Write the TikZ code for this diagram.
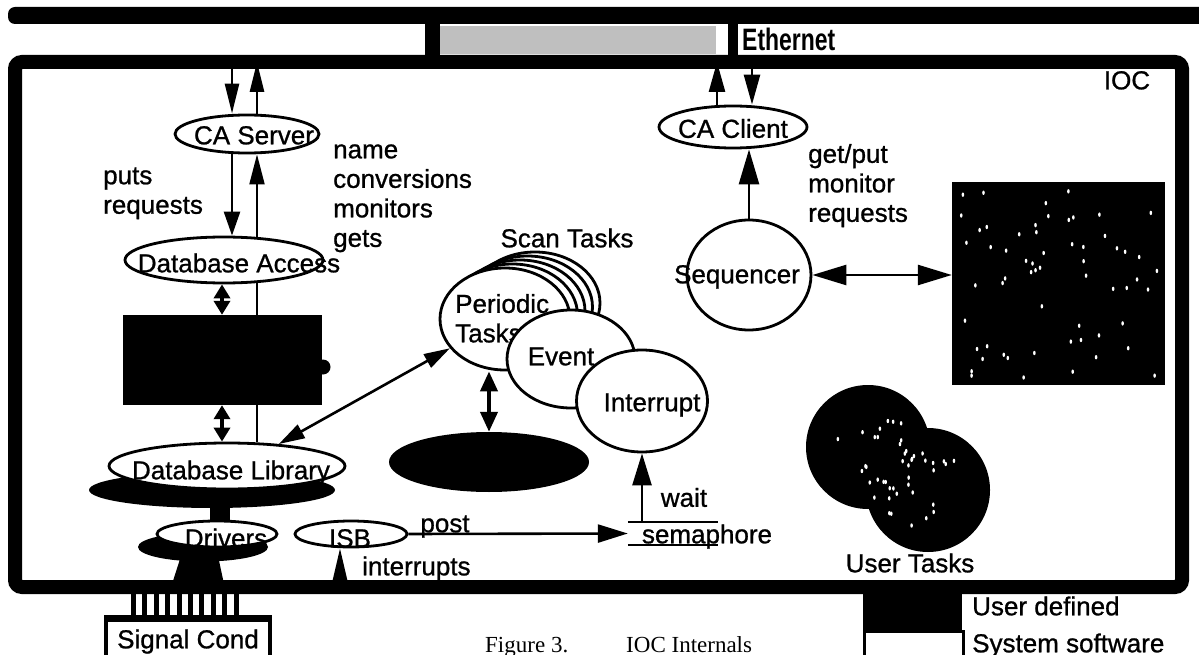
\documentclass[tikz,border=0pt]{standalone}
\usepackage{fontspec}
\setmainfont{Liberation Sans}[FakeBold=0.9]
\newfontfamily\boldfont{Liberation Sans Bold}
\newfontfamily\capfont{Liberation Serif}
\usetikzlibrary{arrows.meta,shapes.geometric,calc}
\pgfdeclarelayer{back}
\pgfsetlayers{back,main}
\begin{document}
\begin{tikzpicture}[x=1pt,y=-1pt,
  txt/.style={font=\fontsize{26}{29}\selectfont, inner sep=0pt, text height=18.6pt, text depth=0pt},
  mtxt/.style={font=\fontsize{26}{29.5}\selectfont, inner sep=0pt, align=left, anchor=north west},
  ell/.style 2 args={draw, ellipse, line width=2.8pt, fill=white, inner sep=0pt, minimum width=#1, minimum height=#2},
  blkell/.style 2 args={ellipse, fill=black, inner sep=0pt, minimum width=#1, minimum height=#2},
  blkbox/.style 2 args={rectangle, fill=black, inner sep=0pt, minimum width=#1, minimum height=#2},
  arr/.style 2 args={line width=2.6pt, arrows={-{Triangle[length=#1,width=#2]}}},
  darr/.style 2 args={line width=2.6pt, arrows={{Triangle[length=#1,width=#2]}-{Triangle[length=#1,width=#2]}}},
]
\useasboundingbox (0,0) rectangle (1199,655);
\begin{pgfonlayer}{back}
  \fill[white] (0,0) rectangle (1199,655);
  % Ethernet
  \fill[rounded corners=7pt] (8,7) rectangle (1230,24);
  \fill (425,20) rectangle (440,58);
  \fill[black!25] (440,26) rectangle (716,54);
  \fill (728,24) rectangle (738,56);
\end{pgfonlayer}

\node[font=\boldfont\fontsize{31}{32}\selectfont, inner sep=0pt, anchor=west] (ethT) at (742,39) {\scalebox{0.74}[1]{Ethernet}};

% x positions of vertical connectors
\coordinate (xcs1) at (232,0);
\coordinate (xcs2) at (257,0);
\coordinate (xcc1) at (717,0);
\coordinate (xcc2) at (752,0);
\coordinate (xd) at (222,0);
\coordinate (xint) at (340,0);

% left column
\node[ell={144pt}{38pt}] (casrv) at (247,134) {};
\node[txt] (casrvT) at (254,135) {CA Server};
\node[ell={198pt}{46pt}] (dba) at (224,260) {};
\node[txt] (dbaT) at (239,263) {Database Access};
\node[blkbox={199pt}{90pt}] (recsup) at (222.5,360) {};
\fill (323,367) circle (7.5);
\node[blkell={246pt}{36pt}] (dblibsh) at (212,490) {};
\node[ell={236pt}{46pt}] (dblib) at (227,466) {};
\node[txt] (dblibT) at (231,470) {Database Library};
\fill (210,505) rectangle (230,524);
\node[blkell={130pt}{29pt}] (drvsh) at (203,547) {};
\node[ell={120pt}{26pt}] (drv) at (217,534) {};
\node[txt] (drvT) at (226,538) {Drivers};
\fill (181,556) -- (218,556) -- (224,584) -- (172,584) -- cycle;
\node[ell={112pt}{26pt}] (isb) at (351,534) {};
\node[txt] (isbT) at (350,538) {ISB};

\node[mtxt] (putsT) at (103,163.4) {\strut puts\\\strut requests};
\node[mtxt] (nameT) at (333,137.5) {\strut name\\\strut conversions\\\strut monitors\\\strut gets};

% scan tasks
\node[blkell={200pt}{60pt}] (bell) at (489,462) {};
\foreach \k in {4,3,2,1} \node[ell={130pt}{102pt}] (scan\k) at ({505+7.5*\k},{319-4*\k}) {};
\node[ell={130pt}{102pt}] (per) at (505,319) {};
\node[mtxt] (perT) at (455,292) {\strut Periodic\\\strut Tasks};
\node[ell={128pt}{98pt}] (evt) at (571,359) {};
\node[txt] (evtT) at (561,356) {Event};
\node[ell={131pt}{102pt}] (intr) at (642,401) {};
\node[txt] (intrT) at (652,402) {Interrupt};
\node[txt] (scanT) at (567,238) {Scan Tasks};

% semaphore
\node[minimum width=90pt, minimum height=23pt, inner sep=0pt] (sema) at (673,533.5) {};
\draw[line width=2.4pt] (sema.north west) -- (sema.north east);
\draw[line width=2.4pt] (sema.south west) -- (sema.south east);
\node[txt] (semaT) at (707,534) {semaphore};
\node[txt] (waitT) at (684,497.5) {wait};
\node[txt] (postT) at (445,523) {post};
\node[txt, anchor=west] (intsT) at (362,566) {interrupts};

% right side
\node[ell={148pt}{42pt}] (cacl) at (733,127) {};
\node[txt] (caclT) at (733,128.5) {CA Client};
\node[ell={124pt}{110pt}] (seq) at (749,275) {};
\node[txt] (seqT) at (737,274) {Sequencer};
\node[mtxt] (gpT) at (808,142) {\strut get/put\\\strut monitor\\\strut requests};
\node[blkbox={213pt}{203pt}] (sq) at (1058.5,283.5) {};
\node[circle, fill=black, minimum size=124pt, inner sep=0pt] (ut1) at (868,447) {};
\node[circle, fill=black, minimum size=124pt, inner sep=0pt] (ut2) at (928,490) {};
\node[txt] (utT) at (910,563) {User Tasks};

% speckles on user defined parts
\pgfmathsetseed{42}
\foreach \i in {1,...,60}{
  \pgfmathsetmacro{\px}{958+rnd*200}
  \pgfmathsetmacro{\py}{188+rnd*190}
  \fill[white] (\px,\py) ellipse (1.3 and 2.2);
}
\foreach \i in {1,...,45}{
  \pgfmathsetmacro{\pt}{rnd}
  \pgfmathsetmacro{\pa}{rnd*360}
  \pgfmathsetmacro{\pr}{sqrt(rnd)*48}
  \fill[white] ({868+60*\pt+\pr*cos(\pa)},{447+43*\pt+\pr*sin(\pa)}) ellipse (1.3 and 2.2);
}

% IOC box
\node[draw, line width=14pt, rounded corners=7pt, inner sep=0pt, minimum width=1167pt, minimum height=525pt] (ioc) at (598.5,324.5) {};
\node[txt] (iocT) at (1127,80) {IOC};

% legend
\node[blkbox={99pt}{36pt}, anchor=north west] (legU) at (863,594) {};
\node[draw, line width=3pt, inner sep=0pt, minimum width=99pt, minimum height=40pt, anchor=north west] (legS) at (863,630) {};
\node[txt, anchor=west] (legUT) at (972,606) {User defined};
\node[txt, anchor=west] (legST) at (972,643) {System software};

% signal conditioning
\foreach \i in {0,...,9} \fill ({131+\i*11.4},594) rectangle ++(5,22);
\node[draw, line width=4pt, inner sep=0pt, minimum width=164pt, minimum height=50pt, anchor=north west] (sig) at (104,618) {};
\draw[line width=6pt] (sig.north west) -- (sig.north east);
\node[txt] (sigT) at (188,639) {Signal Cond};

% caption
\node[font=\capfont\fontsize{23}{26}\selectfont, inner sep=0pt, anchor=base west] (capT) at (485,652) {Figure 3.\hspace{58pt}IOC Internals};

% connectors
\begin{pgfonlayer}{back}
  \draw[arr={30pt}{14pt}, shorten <=7pt] (ioc.north -| xcs1) -- (casrv.north -| xcs1);
  \draw[arr={30pt}{14pt}, shorten >=7pt] (casrv.north -| xcs2) -- (ioc.north -| xcs2);
  \draw[arr={30pt}{16pt}, shorten >=7pt] (cacl.north -| xcc1) -- (ioc.north -| xcc1);
  \draw[arr={30pt}{16pt}, shorten <=7pt] (ioc.north -| xcc2) -- (cacl.north -| xcc2);
  \draw[arr={24pt}{16pt}] (casrv.south -| xcs1) -- (dba.north -| xcs1);
  \draw[arr={30pt}{15pt}, line width=2pt] (dblib.north -| xcs2) -- (casrv.south -| xcs2);
  \draw[darr={14pt}{16pt}, line width=4pt] (dba.south -| xd) -- (recsup.north -| xd);
  \draw[darr={14pt}{16pt}, line width=4pt] (recsup.south -| xd) -- (dblib.north -| xd);
  \draw[darr={26pt}{15pt}] (dblib.23) -- (per.208);
  \draw[darr={20pt}{17pt}, line width=4pt] (per.south -| bell.north) -- (bell.north);
  \draw[arr={30pt}{18pt}] (isb.east) -- (sema.west);
  \draw[arr={32pt}{19pt}] (sema.north -| intr.south) -- (intr.south);
  \draw[arr={34pt}{15pt}, shorten <=7pt] (ioc.south -| xint) -- (isb.south -| xint);
  \draw[arr={35pt}{20pt}] (seq.north) -- (seq.north |- cacl.south);
  \draw[darr={34pt}{20pt}] (seq.east) -- (seq.east -| sq.west);
\end{pgfonlayer}
\end{tikzpicture}
\end{document}
